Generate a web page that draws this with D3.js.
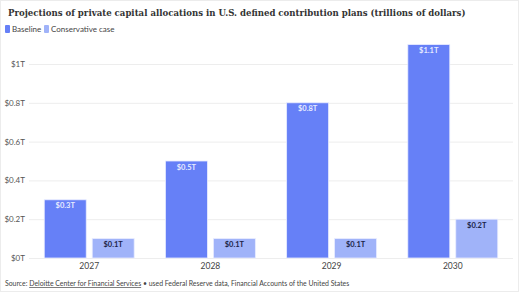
<!DOCTYPE html>
<html>
<head>
<meta charset="utf-8">
<script src="https://cdn.jsdelivr.net/npm/d3@7"></script>
<style>
  body { margin: 0; background: #fff; }
  text { font-family: Lato, "Open Sans", sans-serif; }
</style>
</head>
<body>
<div id="chart"></div>
<script>
var years = ["2027", "2028", "2029", "2030"];
var seriesNames = ["Baseline", "Conservative case"];
var baseline = [0.3, 0.5, 0.8, 1.1];
var conservative = [0.1, 0.1, 0.1, 0.2];
var yTicks = [0, 0.2, 0.4, 0.6, 0.8, 1];
var colors = ["#6680f7", "#a0b3f9"];

var svg = d3.select("#chart").append("svg").attr("width", 520).attr("height", 293);

// frame
svg.append("rect").attr("x", 0.5).attr("y", 0.5).attr("width", 518).attr("height", 291)
    .style("fill", "#fff").style("stroke", "#ececec");

var title = svg.append("text")
    .attr("x", 8).attr("y", 16)
    .style("font-family", "'DejaVu Serif', serif")
    .style("font-weight", "bold").style("font-size", "12px").style("fill", "#333")
    .text("Projections of private capital allocations in U.S. defined contribution plans (trillions of dollars)");
// shrink title so it spans about the same width as the original
var tw = title.node().getComputedTextLength();
title.style("font-size", (12 * 458 / tw).toFixed(2) + "px");

// legend
var lx = [5, 44];
seriesNames.forEach(function(s, i) {
    svg.append("rect").attr("x", lx[i]).attr("y", 25).attr("width", 5).attr("height", 8)
        .attr("rx", 1).style("fill", colors[i]);
    svg.append("text").attr("x", lx[i] + 7).attr("y", 32)
        .style("font-size", "8px").style("fill", "#444").text(s);
});

var y = d3.scaleLinear().domain([0, 1]).range([258, 64]);
var x0 = d3.scaleBand().domain(years).range([28.5, 513.5]).paddingInner(0.258).paddingOuter(0.13);
var x1 = d3.scaleBand().domain(seriesNames).range([0, x0.bandwidth()]).paddingInner(0.125);

var grid = svg.append("g");
grid.selectAll("line").data(yTicks).enter().append("line")
    .attr("x1", 29).attr("x2", 513)
    .attr("y1", function(d) { return y(d) + 0.5; })
    .attr("y2", function(d) { return y(d) + 0.5; })
    .style("stroke", "#ededed");
grid.selectAll("text").data(yTicks).enter().append("text")
    .attr("x", 25).attr("y", function(d) { return y(d) + 3; })
    .attr("text-anchor", "end")
    .style("font-size", "8px").style("fill", "#555")
    .text(function(d) { return "$" + d + "T"; });

var rows = years.map(function(yr, i) {
    return [{k: seriesNames[0], v: baseline[i], i: 0}, {k: seriesNames[1], v: conservative[i], i: 1}];
});

var groups = svg.append("g").selectAll("g").data(rows).enter().append("g")
    .attr("transform", function(d, i) { return "translate(" + x0(years[i]) + ",0)"; });

groups.selectAll("rect").data(function(d) { return d; }).enter().append("rect")
    .attr("x", function(d) { return x1(d.k); })
    .attr("y", function(d) { return y(d.v); })
    .attr("width", x1.bandwidth())
    .attr("height", function(d) { return y(0) - y(d.v); })
    .style("fill", function(d) { return colors[d.i]; })
    .style("stroke", "#e8ecff").style("stroke-width", 0.8);

groups.selectAll("text.val").data(function(d) { return d; }).enter().append("text")
    .attr("class", "val")
    .attr("x", function(d) { return x1(d.k) + x1.bandwidth() / 2; })
    .attr("y", function(d) { return y(d.v) + 8.5; })
    .attr("text-anchor", "middle")
    .style("font-size", "7.5px").style("font-weight", "bold")
    .style("fill", function(d) { return d.i === 0 ? "#e6ebff" : "#1c2448"; })
    .text(function(d) { return "$" + d.v + "T"; });

svg.append("g").selectAll("text").data(years).enter().append("text")
    .attr("x", function(d) { return x0(d) + x0.bandwidth() / 2; })
    .attr("y", 269)
    .attr("text-anchor", "middle")
    .style("font-size", "8.5px").style("fill", "#444")
    .text(function(d) { return d; });

// source
var src = svg.append("text").attr("x", 5).attr("y", 286).style("font-size", "6.9px").style("fill", "#444");
src.append("tspan").text("Source: ");
src.append("tspan").style("text-decoration", "underline").text("Deloitte Center for Financial Services");
src.append("tspan").text(" \u2022 used Federal Reserve data, Financial Accounts of the United States");
</script>
</body>
</html>
